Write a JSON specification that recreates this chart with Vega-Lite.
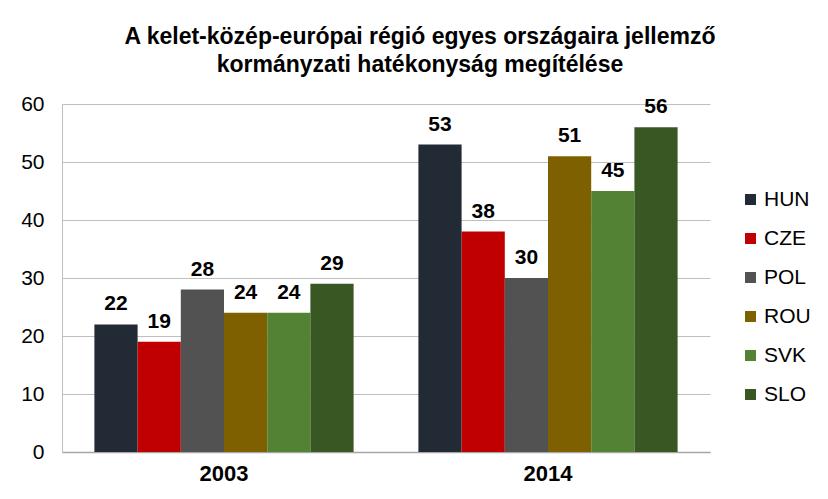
{
  "$schema": "https://vega.github.io/schema/vega-lite/v6.json",
  "width": 648,
  "height": 348,
  "autosize": {"type": "none"},
  "padding": {"left": 62, "top": 104, "right": 118, "bottom": 47},
  "background": "white",
  "config": {
    "font": "Liberation Sans",
    "view": {"stroke": null}
  },
  "title": {
    "text": ["A kelet-közép-európai régió egyes országaira jellemző", "kormányzati hatékonyság megítélése"],
    "font": "Liberation Sans",
    "fontSize": 23,
    "fontWeight": "bold",
    "color": "#000000",
    "anchor": "middle",
    "frame": "group",
    "dx": 34,
    "offset": 16,
    "lineHeight": 28
  },
  "data": {
    "values": [
      {"year": "2003", "country": "HUN", "value": 22},
      {"year": "2003", "country": "CZE", "value": 19},
      {"year": "2003", "country": "POL", "value": 28},
      {"year": "2003", "country": "ROU", "value": 24},
      {"year": "2003", "country": "SVK", "value": 24},
      {"year": "2003", "country": "SLO", "value": 29},
      {"year": "2014", "country": "HUN", "value": 53},
      {"year": "2014", "country": "CZE", "value": 38},
      {"year": "2014", "country": "POL", "value": 30},
      {"year": "2014", "country": "ROU", "value": 51},
      {"year": "2014", "country": "SVK", "value": 45},
      {"year": "2014", "country": "SLO", "value": 56}
    ]
  },
  "encoding": {
    "x": {
      "field": "year", "type": "nominal",
      "scale": {"paddingInner": 0.2, "paddingOuter": 0.1},
      "axis": {
        "title": null, "labelAngle": 0, "ticks": false,
        "labelFontSize": 22, "labelFontWeight": "bold", "labelColor": "#000000",
        "labelPadding": 11, "domainColor": "#A6A6A6", "domainWidth": 1.5
      }
    },
    "xOffset": {"field": "country", "type": "nominal", "sort": ["HUN", "CZE", "POL", "ROU", "SVK", "SLO"], "scale": {"paddingInner": 0, "paddingOuter": 0}},
    "y": {
      "field": "value", "type": "quantitative",
      "scale": {"domain": [0, 60], "nice": false},
      "axis": {
        "title": null, "values": [0, 10, 20, 30, 40, 50, 60], "ticks": false,
        "labelFontSize": 21, "labelColor": "#000000", "labelPadding": 18,
        "gridColor": "#BFBFBF", "domain": true, "domainColor": "#BFBFBF"
      }
    }
  },
  "layer": [
    {
      "mark": {"type": "bar"},
      "encoding": {
        "color": {
          "field": "country", "type": "nominal",
          "sort": ["HUN", "CZE", "POL", "ROU", "SVK", "SLO"],
          "scale": {
            "domain": ["HUN", "CZE", "POL", "ROU", "SVK", "SLO"],
            "range": ["#222A35", "#C00000", "#525252", "#7F6000", "#548235", "#385723"]
          },
          "legend": {
            "title": null, "orient": "none", "legendX": 678, "legendY": 85,
            "symbolType": "square", "symbolSize": 120, "symbolStrokeWidth": 0,
            "labelFontSize": 21, "labelColor": "#000000", "rowPadding": 17, "labelOffset": 3
          }
        }
      }
    },
    {
      "mark": {"type": "text", "dy": -20, "fontSize": 21, "fontWeight": "bold", "color": "#000000"},
      "encoding": {
        "text": {"field": "value", "type": "quantitative"}
      }
    }
  ]
}
